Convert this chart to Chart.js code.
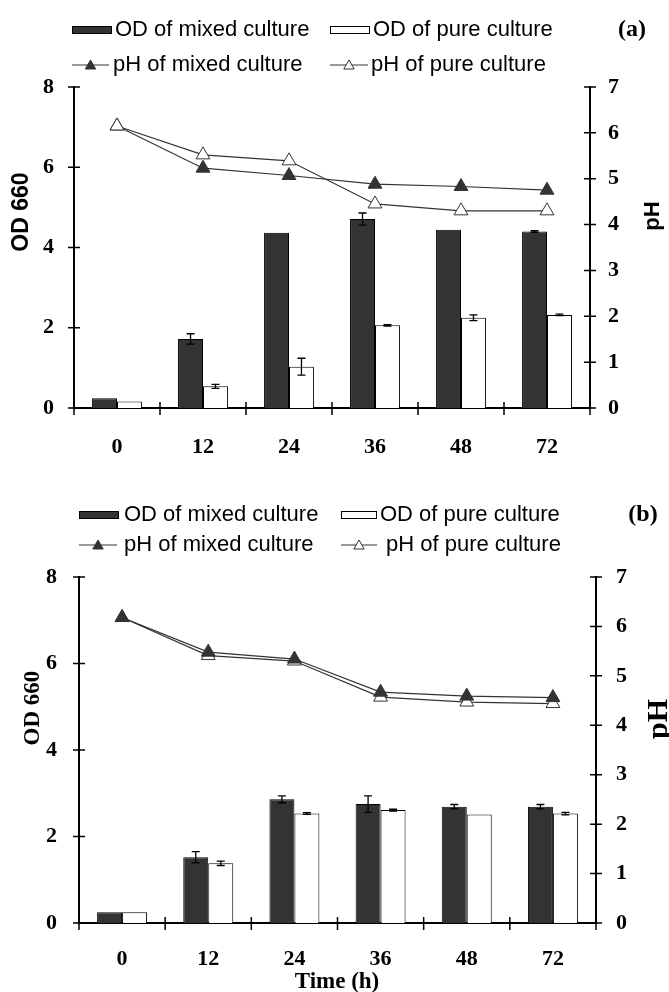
<!DOCTYPE html>
<html>
<head>
<meta charset="utf-8">
<script src="https://cdn.jsdelivr.net/npm/chart.js@4/dist/chart.umd.min.js"></script>
<style>
    body { margin: 0; background: #fff; }
    canvas { display: block; }
</style>
</head>
<body>
<canvas id="chartA" width="669" height="490"></canvas>
<canvas id="chartB" width="669" height="502"></canvas>
<script>
/* ------------------------------- Data -------------------------------*/

const TIME_LABELS = ['0', '12', '24', '36', '48', '72'];

// panel (a)
const OD_MIXED_A     = [0.24, 1.72, 4.37, 4.71, 4.44, 4.40];
const OD_MIXED_ERR_A = [0, 0.13, 0, 0.15, 0, 0.02];
const OD_PURE_A      = [0.16, 0.54, 1.03, 2.06, 2.25, 2.32];
const OD_PURE_ERR_A  = [0, 0.05, 0.21, 0.02, 0.07, 0.02];
const PH_MIXED_A     = [6.15, 5.23, 5.07, 4.88, 4.83, 4.75];
const PH_PURE_A      = [6.15, 5.52, 5.39, 4.45, 4.30, 4.30];

// panel (b)
const OD_MIXED_B     = [0.25, 1.52, 2.86, 2.75, 2.69, 2.69];
const OD_MIXED_ERR_B = [0, 0.13, 0.08, 0.19, 0.05, 0.05];
const OD_PURE_B      = [0.25, 1.38, 2.53, 2.61, 2.51, 2.53];
const OD_PURE_ERR_B  = [0, 0.05, 0.02, 0.02, 0, 0.03];
const PH_MIXED_B     = [6.18, 5.48, 5.34, 4.67, 4.59, 4.56];
const PH_PURE_B      = [6.18, 5.41, 5.30, 4.57, 4.47, 4.44];

const DARK = '#333333';

/* ------------------------------- Plugins -------------------------------*/

const errorBarsPlugin = {                                   // вуса похибок над стовпчиками
    id: 'errorBars',
    afterDatasetDraw(chart, args) {
        const ds = chart.data.datasets[args.index];
        if (!ds.errors) return;
        const ctx = chart.ctx;
        const scale = chart.scales[args.meta.yAxisID];
        ctx.save();
        ctx.strokeStyle = '#000';
        ctx.lineWidth = 1.3;
        args.meta.data.forEach((bar, i) => {
            const e = ds.errors[i];
            if (!e) return;
            const yTop = scale.getPixelForValue(ds.data[i] + e);
            const yBot = scale.getPixelForValue(ds.data[i] - e);
            ctx.beginPath();
            ctx.moveTo(bar.x, yTop); ctx.lineTo(bar.x, yBot);
            ctx.moveTo(bar.x - 4, yTop); ctx.lineTo(bar.x + 4, yTop);
            ctx.moveTo(bar.x - 4, yBot); ctx.lineTo(bar.x + 4, yBot);
            ctx.stroke();
        });
        ctx.restore();
    }
};

const axisTicksPlugin = {                                   // риски, що перетинають осі
    id: 'axisTicks',
    afterDraw(chart) {
        const ctx = chart.ctx, a = chart.chartArea;
        const x = chart.scales.x, yl = chart.scales.y, yr = chart.scales.y1;
        ctx.save();
        ctx.strokeStyle = '#000';
        ctx.lineWidth = 1.5;
        ctx.beginPath();
        yl.ticks.forEach(t => {
            const py = yl.getPixelForValue(t.value);
            ctx.moveTo(a.left - 6, py); ctx.lineTo(a.left + 6, py);
        });
        yr.ticks.forEach(t => {
            const py = yr.getPixelForValue(t.value);
            ctx.moveTo(a.right - 6, py); ctx.lineTo(a.right + 6, py);
        });
        for (let i = 0; i <= TIME_LABELS.length; i++) {
            const px = x.getPixelForValue(i - 0.5);
            ctx.moveTo(px, a.bottom - 6); ctx.lineTo(px, a.bottom + 7);
        }
        ctx.stroke();
        ctx.restore();
    }
};

function drawTriangle(ctx, cx, cy, r, filled) {
    ctx.beginPath();
    ctx.moveTo(cx, cy - r);
    ctx.lineTo(cx - r * 0.866, cy + r / 2);
    ctx.lineTo(cx + r * 0.866, cy + r / 2);
    ctx.closePath();
    ctx.fillStyle = filled ? DARK : '#fff';
    ctx.fill();
    ctx.strokeStyle = DARK;
    ctx.lineWidth = 1;
    ctx.stroke();
}

const decorPlugin = {                                       // легенда в стилі Excel та підписи осей
    id: 'decor',
    afterDraw(chart, args, o) {
        const ctx = chart.ctx;
        const ds = chart.data.datasets;
        ctx.save();
        ctx.textBaseline = 'middle';
        ctx.fillStyle = '#000';
        ctx.font = '22px "Liberation Sans", Arial, sans-serif';
        ctx.textAlign = 'left';

        o.items.forEach(it => {
            const d = ds[it.ds];
            if (it.kind === 'box') {
                ctx.fillStyle = d.backgroundColor;
                ctx.fillRect(it.x1, it.y - 4, it.x2 - it.x1, 8);
                ctx.strokeStyle = '#000';
                ctx.lineWidth = 1;
                ctx.strokeRect(it.x1 + 0.5, it.y - 3.5, it.x2 - it.x1 - 1, 7);
            } else {
                ctx.strokeStyle = DARK;
                ctx.lineWidth = 1;
                ctx.beginPath();
                ctx.moveTo(it.x1, it.y); ctx.lineTo(it.x2, it.y);
                ctx.stroke();
                drawTriangle(ctx, (it.x1 + it.x2) / 2, it.y + 1, 6, d.pointBackgroundColor !== '#fff');
            }
            ctx.fillStyle = '#000';
            ctx.fillText(d.label, it.tx, it.y);
        });

        o.texts.forEach(t => {
            ctx.save();
            ctx.translate(t.x, t.y);
            if (t.rot) ctx.rotate(t.rot);
            ctx.font = t.font;
            ctx.textAlign = 'center';
            ctx.fillText(t.text, 0, 0);
            ctx.restore();
        });
        ctx.restore();
    }
};

/* ------------------------------- Charts -------------------------------*/

function buildChart(id, p) {
    const tickFont = { family: '"Liberation Serif", "Times New Roman", serif', weight: 'bold', size: 22 };
    return new Chart(document.getElementById(id), {
        type: 'bar',
        data: {
            labels: TIME_LABELS,
            datasets: [{
                label: 'OD of mixed culture',
                data: p.odMixed,
                errors: p.odMixedErr,
                backgroundColor: DARK,
                borderColor: '#000',
                borderWidth: 1,
                yAxisID: 'y',
                order: 2,
                categoryPercentage: 0.58,
                barPercentage: 1
            }, {
                label: 'OD of pure culture',
                data: p.odPure,
                errors: p.odPureErr,
                backgroundColor: '#fff',
                borderColor: '#000',
                borderWidth: 1,
                yAxisID: 'y',
                order: 3,
                categoryPercentage: 0.58,
                barPercentage: 1
            }, {
                type: 'line',
                label: 'pH of mixed culture',
                data: p.phMixed,
                yAxisID: 'y1',
                order: p.pureOnTop ? 1 : 0,
                borderColor: DARK,
                borderWidth: 1.2,
                tension: 0,
                pointStyle: 'triangle',
                pointRadius: 8,
                pointBackgroundColor: DARK,
                pointBorderColor: DARK,
                pointBorderWidth: 1
            }, {
                type: 'line',
                label: 'pH of pure culture',
                data: p.phPure,
                yAxisID: 'y1',
                order: p.pureOnTop ? 0 : 1,
                borderColor: DARK,
                borderWidth: 1.2,
                tension: 0,
                pointStyle: 'triangle',
                pointRadius: 8,
                pointBackgroundColor: '#fff',
                pointBorderColor: DARK,
                pointBorderWidth: 1
            }]
        },
        options: {
            responsive: false,
            animation: false,
            layout: { padding: { top: p.top, left: 0, right: 0, bottom: 0 } },
            plugins: {
                legend: { display: false },
                tooltip: { enabled: false },
                decor: { items: p.legend, texts: p.texts }
            },
            scales: {
                x: {
                    grid: { display: false, drawTicks: false },
                    border: { display: true, color: '#000', width: 2 },
                    ticks: { font: tickFont, color: '#000', padding: p.xPad, maxRotation: 0 },
                    afterFit(s) { s.height = p.xHeight; }
                },
                y: {
                    position: 'left',
                    min: 0, max: 8,
                    grid: { display: false, drawTicks: false },
                    border: { display: true, color: '#000', width: 2 },
                    ticks: { stepSize: 2, font: tickFont, color: '#000', padding: p.leftPad },
                    afterFit(s) { s.width = p.leftW; }
                },
                y1: {
                    position: 'right',
                    min: 0, max: 7,
                    grid: { display: false, drawTicks: false },
                    border: { display: true, color: '#000', width: 2 },
                    ticks: { stepSize: 1, font: tickFont, color: '#000', padding: p.rightPad },
                    afterFit(s) { s.width = p.rightW; }
                }
            }
        },
        plugins: [errorBarsPlugin, axisTicksPlugin, decorPlugin]
    });
}

const SANS_B = 'bold 23px "Liberation Sans", Arial, sans-serif';
const SERIF_B = '"Liberation Serif", "Times New Roman", serif';

buildChart('chartA', {
    odMixed: OD_MIXED_A, odMixedErr: OD_MIXED_ERR_A,
    odPure: OD_PURE_A, odPureErr: OD_PURE_ERR_A,
    phMixed: PH_MIXED_A, phPure: PH_PURE_A,
    pureOnTop: true,
    top: 87, xHeight: 82, leftW: 74, rightW: 79,
    xPad: 26, leftPad: 20, rightPad: 18,
    legend: [
        { ds: 0, kind: 'box',  x1: 72,  x2: 112, tx: 115, y: 30 },
        { ds: 1, kind: 'box',  x1: 330, x2: 370, tx: 373, y: 30 },
        { ds: 2, kind: 'line', x1: 72,  x2: 109, tx: 113, y: 65 },
        { ds: 3, kind: 'line', x1: 330, x2: 368, tx: 371, y: 65 }
    ],
    texts: [
        { text: '(a)', x: 632, y: 30, font: 'bold 24px ' + SERIF_B },
        { text: 'OD 660', x: 22, y: 212, rot: -Math.PI / 2, font: SANS_B },
        { text: 'pH', x: 653, y: 216, rot: -Math.PI / 2, font: 'bold 22px "Liberation Sans", Arial, sans-serif' }
    ]
});

buildChart('chartB', {
    odMixed: OD_MIXED_B, odMixedErr: OD_MIXED_ERR_B,
    odPure: OD_PURE_B, odPureErr: OD_PURE_ERR_B,
    phMixed: PH_MIXED_B, phPure: PH_PURE_B,
    pureOnTop: false,
    top: 87, xHeight: 69, leftW: 79, rightW: 73,
    xPad: 23, leftPad: 22, rightPad: 20,
    legend: [
        { ds: 0, kind: 'box',  x1: 79,  x2: 119, tx: 124, y: 25 },
        { ds: 1, kind: 'box',  x1: 341, x2: 377, tx: 380, y: 25 },
        { ds: 2, kind: 'line', x1: 79,  x2: 117, tx: 124, y: 55 },
        { ds: 3, kind: 'line', x1: 341, x2: 377, tx: 386, y: 55 }
    ],
    texts: [
        { text: '(b)', x: 643, y: 25, font: 'bold 24px ' + SERIF_B },
        { text: 'OD 660', x: 33, y: 218, rot: -Math.PI / 2, font: 'bold 23px ' + SERIF_B },
        { text: 'pH', x: 659, y: 229, rot: -Math.PI / 2, font: 'bold 30px ' + SERIF_B },
        { text: 'Time (h)', x: 337, y: 492, font: 'bold 23px ' + SERIF_B }
    ]
});
</script>
</body>
</html>
